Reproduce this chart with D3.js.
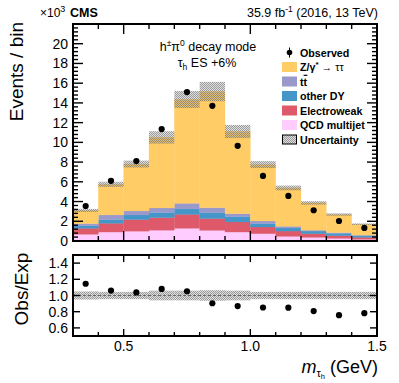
<!DOCTYPE html>
<html><head><meta charset="utf-8">
<script src="https://cdn.jsdelivr.net/npm/d3@7"></script>
<style>body{margin:0;background:#fff}svg{display:block;font-family:"Liberation Sans",Arial,sans-serif}</style>
</head><body><svg id="c" width="399" height="383"></svg>
<script>
// ---- data (values in units of 10^3 events) ----
const binLow = [0.3,0.4,0.5,0.6,0.7,0.8,0.9,1.0,1.1,1.2,1.3,1.4];
const binWidth = 0.1;
const qcd  = [0.68,0.91,1.00,1.10,1.29,1.08,0.91,0.74,0.47,0.37,0.27,0.17];
const ewk  = [0.61,0.89,1.17,1.27,1.41,1.19,1.02,0.68,0.54,0.37,0.27,0.21];
const otherDY = [0.26,0.37,0.47,0.51,0.55,0.61,0.54,0.34,0.31,0.27,0.24,0.16];
const ttbar = [0.21,0.47,0.41,0.47,0.57,0.50,0.30,0.27,0.17,0.09,0.07,0.06];
const ztt  = [1.34,3.11,4.75,7.15,10.53,11.77,8.33,5.72,3.89,2.76,1.83,1.10];
const observed = [3.55,6.10,8.10,11.35,15.10,13.70,9.65,6.60,4.57,3.12,2.03,1.33];
const relUnc = [0.05,0.045,0.045,0.06,0.06,0.065,0.06,0.045,0.045,0.045,0.045,0.045];
const yTicks = [0,2,4,6,8,10,12,14,16,18,20];
const xTicks = [0.5,1.0,1.5];
const rTicks = [0.6,0.8,1.0,1.2,1.4];

const seriesKeys = ["qcd","ewk","otherDY","ttbar","ztt"];
const seriesColor = {qcd:"#FFCCFF", ewk:"#DE5A6A", otherDY:"#4496C8", ttbar:"#9999CC", ztt:"#FFCC66"};
const rows = binLow.map((x,i)=>({x, qcd:qcd[i], ewk:ewk[i], otherDY:otherDY[i], ttbar:ttbar[i], ztt:ztt[i]}));
const totals = rows.map(r=>seriesKeys.reduce((s,k)=>s+r[k],0));

const svg = d3.select("#c");
const L=73, R=377, T=24, B=241, RT=255, RB=336;
const x = d3.scaleLinear().domain([0.3,1.5]).range([L,R]);
const y = d3.scaleLinear().domain([0,22]).range([B,T]);
const yr = d3.scaleLinear().domain([0.5,1.5]).range([RB,RT]);

// pattern for uncertainty
const defs = svg.append("defs");
const pat = defs.append("pattern").attr("id","unc").attr("patternUnits","userSpaceOnUse").attr("width",2).attr("height",2);
pat.append("rect").attr("width",2).attr("height",2).attr("fill","rgba(150,150,150,0.3)");
pat.append("rect").attr("width",1).attr("height",1).attr("fill","rgba(110,110,110,0.6)");
pat.append("rect").attr("x",1).attr("y",1).attr("width",1).attr("height",1).attr("fill","rgba(110,110,110,0.6)");

// stack
const stack = d3.stack().keys(seriesKeys)(rows);
const gMain = svg.append("g");
stack.forEach(layer=>{
  gMain.selectAll(null).data(layer).enter().append("rect")
    .attr("x",d=>x(d.data.x)).attr("width",d=>x(d.data.x+binWidth)-x(d.data.x))
    .attr("y",d=>y(d[1])).attr("height",d=>y(d[0])-y(d[1]))
    .attr("fill",seriesColor[layer.key]).attr("stroke",seriesColor[layer.key]).attr("stroke-width",0.3);
});
// uncertainty band
gMain.selectAll(null).data(binLow).enter().append("rect")
  .attr("x",d=>x(d)).attr("width",d=>x(d+binWidth)-x(d))
  .attr("y",(d,i)=>y(totals[i]*(1+relUnc[i]))).attr("height",(d,i)=>y(totals[i]*(1-relUnc[i]))-y(totals[i]*(1+relUnc[i])))
  .attr("fill","url(#unc)");
// observed
gMain.selectAll(null).data(binLow).enter().append("circle")
  .attr("cx",d=>x(d+binWidth/2)).attr("cy",(d,i)=>y(observed[i])).attr("r",3.1).attr("fill","#000");

// ratio panel
const gR = svg.append("g");
gR.selectAll(null).data(binLow).enter().append("rect")
  .attr("x",d=>x(d)).attr("width",d=>x(d+binWidth)-x(d))
  .attr("y",(d,i)=>yr(1+relUnc[i])).attr("height",(d,i)=>yr(1-relUnc[i])-yr(1+relUnc[i]))
  .attr("fill","url(#unc)");
gR.append("line").attr("x1",L).attr("x2",R).attr("y1",yr(1)).attr("y2",yr(1))
  .attr("stroke","#666").attr("stroke-width",1.2).attr("stroke-dasharray","3,2");
gR.selectAll(null).data(binLow).enter().append("circle")
  .attr("cx",d=>x(d+binWidth/2)).attr("cy",(d,i)=>yr(observed[i]/totals[i])).attr("r",3.1).attr("fill","#000");

// axes helpers
function ticksOn(g, scale, vals, orient, pos, len){
  g.selectAll(null).data(vals).enter().append("line").each(function(v){
    const s=d3.select(this);
    if(orient==="left"||orient==="right"){
      const dir = orient==="left"?1:-1;
      s.attr("x1",pos).attr("x2",pos+dir*len).attr("y1",scale(v)).attr("y2",scale(v));
    } else {
      const dir = orient==="bottom"?-1:1;
      s.attr("y1",pos).attr("y2",pos+dir*len).attr("x1",scale(v)).attr("x2",scale(v));
    }
  }).attr("stroke","#000").attr("stroke-width",1.4);
}
const gA = svg.append("g");
const yMinor = d3.range(0,22.0001,0.4).filter(v=>Math.abs(v/2-Math.round(v/2))>1e-6);
const xMinor = d3.range(0.3,1.5001,0.1).map(v=>+v.toFixed(2)).filter(v=>!xTicks.includes(v));
// main
ticksOn(gA,y,yTicks,"left",L,10); ticksOn(gA,y,yMinor,"left",L,5);
ticksOn(gA,y,yTicks,"right",R,10); ticksOn(gA,y,yMinor,"right",R,5);
ticksOn(gA,x,xTicks,"bottom",B,10); ticksOn(gA,x,xMinor,"bottom",B,5);
ticksOn(gA,x,xTicks,"top",T,10); ticksOn(gA,x,xMinor,"top",T,5);
// ratio
ticksOn(gA,yr,rTicks,"left",L,7); ticksOn(gA,yr,rTicks,"right",R,7);
ticksOn(gA,x,xTicks,"bottom",RB,7); ticksOn(gA,x,xMinor,"bottom",RB,4);
ticksOn(gA,x,xTicks,"top",RT,7); ticksOn(gA,x,xMinor,"top",RT,4);

// frames
svg.append("rect").attr("x",L).attr("y",T).attr("width",R-L).attr("height",B-T).attr("fill","none").attr("stroke","#000").attr("stroke-width",2);
svg.append("rect").attr("x",L).attr("y",RT).attr("width",R-L).attr("height",RB-RT).attr("fill","none").attr("stroke","#000").attr("stroke-width",2);

// tick labels
const fs=14;
svg.selectAll(null).data(yTicks).enter().append("text").attr("x",L-5).attr("y",d=>y(d)+5)
  .attr("text-anchor","end").attr("font-size",fs).text(d=>d);
svg.selectAll(null).data(rTicks).enter().append("text").attr("x",L-5).attr("y",d=>yr(d)+5)
  .attr("text-anchor","end").attr("font-size",fs).text(d=>d.toFixed(1));
svg.selectAll(null).data(xTicks).enter().append("text").attr("x",d=>x(d)).attr("y",351)
  .attr("text-anchor","middle").attr("font-size",fs).text(d=>d.toFixed(1));

// axis titles
svg.append("text").attr("transform","translate(23,22) rotate(-90)").attr("text-anchor","end")
  .attr("font-size",19).text("Events / bin");
svg.append("text").attr("transform","translate(28,289) rotate(-90)").attr("text-anchor","middle")
  .attr("font-size",19).text("Obs/Exp");
const xt = svg.append("text").attr("x",378).attr("y",373).attr("text-anchor","end").attr("font-size",18);
xt.append("tspan").attr("font-style","italic").text("m");
xt.append("tspan").attr("font-size",11).attr("dy",4).text("τ");
xt.append("tspan").attr("font-size",7.5).attr("dy",2).text("h");
xt.append("tspan").attr("dy",-6).text(" (GeV)");

// header
const h1 = svg.append("text").attr("x",40).attr("y",17).attr("font-size",12);
h1.append("tspan").text("×10");
h1.append("tspan").attr("font-size",9).attr("dy",-5).text("3");
svg.append("text").attr("x",70).attr("y",17).attr("font-size",12.5).attr("font-weight","bold").text("CMS");
const lumi = svg.append("text").attr("x",378).attr("y",17).attr("text-anchor","end").attr("font-size",12.5);
lumi.append("tspan").text("35.9 fb");
lumi.append("tspan").attr("font-size",8.5).attr("dy",-5).text("-1");
lumi.append("tspan").attr("dy",5).text(" (2016, 13 TeV)");

// annotation
const a1 = svg.append("text").attr("x",208).attr("y",51).attr("text-anchor","middle").attr("font-size",12.5);
a1.append("tspan").text("h");
a1.append("tspan").attr("font-size",8.5).attr("dy",-5).text("±");
a1.append("tspan").attr("dy",5).text("π");
a1.append("tspan").attr("font-size",8.5).attr("dy",-5).text("0");
a1.append("tspan").attr("dy",5).text(" decay mode");
const a2 = svg.append("text").attr("x",207).attr("y",67).attr("text-anchor","middle").attr("font-size",12.5);
a2.append("tspan").text("τ");
a2.append("tspan").attr("font-size",8.5).attr("dy",3).text("h");
a2.append("tspan").attr("dy",-3).text(" ES +6%");

// legend
const legRows = [52.5,67,81.5,96,110.5,125,139.5];
const lg = svg.append("g").attr("font-size",10.7).attr("font-weight","bold");
// observed
lg.append("line").attr("x1",289.5).attr("x2",289.5).attr("y1",legRows[0]-5).attr("y2",legRows[0]+5).attr("stroke","#000").attr("stroke-width",1);
lg.append("circle").attr("cx",289.5).attr("cy",legRows[0]).attr("r",2.8).attr("fill","#000");
lg.append("text").attr("x",300).attr("y",legRows[0]+4).text("Observed");
const legBoxes = [["ztt",1],["ttbar",2],["otherDY",3],["ewk",4],["qcd",5]];
legBoxes.forEach(([k,r])=>{
  lg.append("rect").attr("x",282).attr("y",legRows[r]-5).attr("width",15).attr("height",10).attr("fill",seriesColor[k]);
});
const tz = lg.append("text").attr("x",300).attr("y",legRows[1]+4);
tz.append("tspan").text("Z/γ");
tz.append("tspan").attr("font-size",8).attr("dy",-4).text("*");
tz.append("tspan").attr("dy",4).attr("font-weight","normal").text(" → ττ");
lg.append("text").attr("x",300).attr("y",legRows[2]+4).text("tt");
lg.append("rect").attr("x",303.6).attr("y",legRows[2]-6.8).attr("width",3.8).attr("height",1.2).attr("fill","#000");
lg.append("text").attr("x",300).attr("y",legRows[3]+4).text("other DY");
lg.append("text").attr("x",300).attr("y",legRows[4]+4).text("Electroweak");
lg.append("text").attr("x",300).attr("y",legRows[5]+4).text("QCD multijet");
lg.append("rect").attr("x",282.5).attr("y",legRows[6]-4.5).attr("width",14).attr("height",9).attr("fill","url(#unc)").attr("stroke","#000").attr("stroke-width",1);
lg.append("text").attr("x",300).attr("y",legRows[6]+4).text("Uncertainty");
</script></body></html>
